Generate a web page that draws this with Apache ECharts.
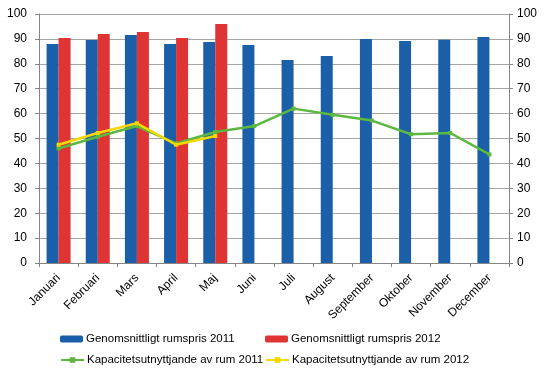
<!DOCTYPE html>
<html>
<head>
<meta charset="utf-8">
<script src="https://cdn.jsdelivr.net/npm/echarts@6/dist/echarts.min.js"></script>
<style>
  html, body { margin: 0; padding: 0; background: #fff; }
  #chart { width: 546px; height: 376px; }
</style>
</head>
<body>
<div id="chart"></div>
<script>
var months = ['Januari', 'Februari', 'Mars', 'April', 'Maj', 'Juni', 'Juli', 'August', 'September', 'Oktober', 'November', 'December']
var pris2011 = [88, 89.6, 91.6, 88, 88.8, 87.6, 81.5, 83.1, 90, 89.2, 89.7, 90.8]
var pris2012 = [90.4, 92, 92.8, 90.4, 96]
var kap2011 = [46, 50.7, 55, 48, 52.6, 55, 62, 59.5, 57.2, 51.7, 52.2, 43.6]
var kap2012 = [47.5, 52.2, 56.1, 47.5, 51]

var names = [
  'Genomsnittligt rumspris 2011',
  'Genomsnittligt rumspris 2012',
  'Kapacitetsutnyttjande av rum 2011',
  'Kapacitetsutnyttjande av rum 2012'
]
var colors = ['#1a5fa8', '#e03333', '#5cb840', '#f5d800']

var font = 'Arial, "Liberation Sans", sans-serif'
var gridColor = '#a6a6a6'
var axisColor = '#868686'

function legendAt(name, left, top) {
  return {
    data: [name],
    left: left,
    top: top,
    itemWidth: 23,
    itemHeight: 7,
    itemGap: 0,
    padding: 0,
    textStyle: { fontFamily: font, fontSize: 11.5, color: '#000', padding: [0, 0, 0, -2] }
  }
}

var yAxisBase = {
  type: 'value',
  min: 0,
  max: 100,
  interval: 10,
  axisLine: { show: true, lineStyle: { color: axisColor } },
  axisTick: { show: true, length: 4, lineStyle: { color: axisColor } },
  axisLabel: { color: '#000', fontFamily: font, fontSize: 12 }
}

var chart = echarts.init(document.getElementById('chart'))
chart.setOption({
  animation: false,
  color: colors,
  legend: [
    legendAt(names[0], 60, 333),
    legendAt(names[1], 265, 333),
    legendAt(names[2], 60, 354),
    legendAt(names[3], 265, 354)
  ],
  grid: { left: 39, right: 37, top: 14, bottom: 113 },
  xAxis: {
    type: 'category',
    data: months,
    axisLine: { lineStyle: { color: axisColor } },
    axisTick: { show: true, length: 4, lineStyle: { color: axisColor } },
    axisLabel: { rotate: 45, color: '#000', fontFamily: font, fontSize: 12, margin: 13, interval: 0 }
  },
  yAxis: [
    Object.assign({}, yAxisBase, {
      position: 'left',
      axisLabel: Object.assign({}, yAxisBase.axisLabel, { margin: 12 }),
      splitLine: { show: true, lineStyle: { color: gridColor } }
    }),
    Object.assign({}, yAxisBase, {
      position: 'right',
      axisLabel: Object.assign({}, yAxisBase.axisLabel, { margin: 8 }),
      splitLine: { show: false }
    })
  ],
  series: [
    {
      name: names[0],
      type: 'bar',
      data: pris2011,
      barWidth: 12,
      barGap: 0,
      itemStyle: { color: colors[0] }
    },
    {
      name: names[1],
      type: 'bar',
      data: pris2012,
      barWidth: 12,
      barGap: 0,
      itemStyle: { color: colors[1] }
    },
    {
      name: names[2],
      type: 'line',
      data: kap2011,
      symbol: 'rect',
      symbolSize: 4,
      lineStyle: { width: 2.5, color: colors[2] },
      itemStyle: { color: colors[2] }
    },
    {
      name: names[3],
      type: 'line',
      data: kap2012,
      symbol: 'rect',
      symbolSize: 4,
      lineStyle: { width: 2.5, color: colors[3] },
      itemStyle: { color: colors[3] }
    }
  ]
})
</script>
</body>
</html>
